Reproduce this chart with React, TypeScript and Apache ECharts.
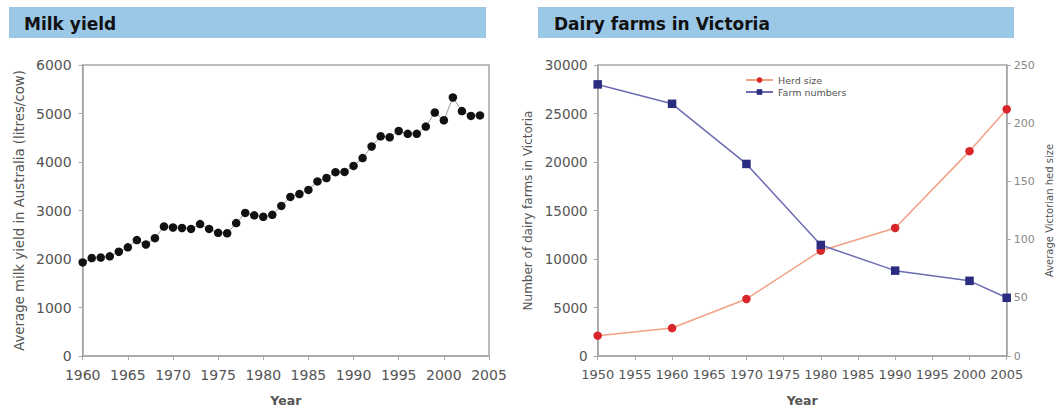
import React, { useEffect, useRef } from "react";
import * as echarts from "echarts";

const milkYears = [1960,1961,1962,1963,1964,1965,1966,1967,1968,1969,1970,1971,1972,1973,1974,1975,1976,1977,1978,1979,1980,1981,1982,1983,1984,1985,1986,1987,1988,1989,1990,1991,1992,1993,1994,1995,1996,1997,1998,1999,2000,2001,2002,2003,2004];
const milkYield = [1930,2020,2030,2055,2150,2240,2390,2300,2430,2670,2650,2640,2620,2720,2620,2540,2530,2740,2950,2900,2870,2910,3095,3280,3340,3425,3600,3670,3790,3795,3920,4080,4320,4530,4510,4640,4580,4580,4730,5020,4860,5330,5050,4950,4960];

const dairyYears = [1950,1960,1970,1980,1990,2000,2005];
const herdSize = [17.5,24,49,90.5,110,176,212];
const farmNumbers = [28000,26000,19800,11450,8800,7750,6000];

const leftTitle = "Milk yield";
const rightTitle = "Dairy farms in Victoria";

const FONT = "DejaVu Sans";
const AX = "#a6a6a6";
const TXT = "#555555";

export default function App() {
  const ref = useRef<HTMLDivElement>(null);
  useEffect(() => {
    if (!ref.current) return;
    const chart = echarts.init(ref.current, null, { renderer: "svg" });
    const axisLine = { show: true, lineStyle: { color: AX, width: 1.5 } };
    const axisTick = { show: true, length: 4, lineStyle: { color: AX, width: 1 } };
    const plain = (v: number) => String(v);
    chart.setOption({
      animation: false,
      textStyle: { fontFamily: FONT },
      graphic: [
        { type: "rect", shape: { x: 9, y: 7, width: 477, height: 31 }, style: { fill: "#9bc8e6" } },
        { type: "rect", shape: { x: 538, y: 7, width: 476, height: 31 }, style: { fill: "#9bc8e6" } },
        { type: "text", x: 24, y: 24, style: { text: leftTitle, font: `bold 17px '${FONT}'`, fill: "#111", textVerticalAlign: "middle" } },
        { type: "text", x: 554, y: 24, style: { text: rightTitle, font: `bold 17px '${FONT}'`, fill: "#111", textVerticalAlign: "middle" } },
      ],
      legend: {
        left: 740,
        top: 70,
        orient: "vertical",
        itemWidth: 27,
        itemHeight: 7,
        itemGap: 2,
        textStyle: { fontSize: 9.5, color: TXT, fontFamily: FONT },
        data: ["Herd size", "Farm numbers"],
      },
      grid: [
        { left: 82.7, top: 65, width: 406.3, height: 292.7, show: true, borderColor: AX, borderWidth: 1.5 },
        { left: 597.7, top: 65, width: 409, height: 292.7, show: true, borderColor: AX, borderWidth: 1.5 },
      ],
      xAxis: [
        {
          type: "value", gridIndex: 0, min: 1960, max: 2005, interval: 5,
          axisLine, axisTick, splitLine: { show: false },
          axisLabel: { color: TXT, fontSize: 14, margin: 12, formatter: plain },
          name: "Year", nameLocation: "middle", nameGap: 38,
          nameTextStyle: { color: TXT, fontSize: 12.5, fontWeight: "bold" },
        },
        {
          type: "value", gridIndex: 1, min: 1950, max: 2005, interval: 5,
          axisLine, axisTick, splitLine: { show: false },
          axisLabel: { color: TXT, fontSize: 13, margin: 12, formatter: plain },
          name: "Year", nameLocation: "middle", nameGap: 38,
          nameTextStyle: { color: TXT, fontSize: 12.5, fontWeight: "bold" },
        },
      ],
      yAxis: [
        {
          type: "value", gridIndex: 0, min: 0, max: 6000, interval: 1000,
          axisLine, axisTick, splitLine: { show: false },
          axisLabel: { color: TXT, fontSize: 14, margin: 11, formatter: plain },
          name: "Average milk yield in Australia (litres/cow)", nameLocation: "middle", nameGap: 57,
          nameTextStyle: { color: TXT, fontSize: 13.3 },
        },
        {
          type: "value", gridIndex: 1, min: 0, max: 30000, interval: 5000, position: "left",
          axisLine, axisTick, splitLine: { show: false },
          axisLabel: { color: TXT, fontSize: 13.5, margin: 10, formatter: plain },
          name: "Number of dairy farms in Victoria", nameLocation: "middle", nameGap: 64,
          nameTextStyle: { color: TXT, fontSize: 12 },
        },
        {
          type: "value", gridIndex: 1, min: 0, max: 250, interval: 50, position: "right",
          axisLine, axisTick, splitLine: { show: false },
          axisLabel: { color: "#888", fontSize: 11, margin: 7, formatter: plain },
          name: "Average Victorian hed size", nameLocation: "middle", nameGap: 38,
          nameRotate: 90,
          nameTextStyle: { color: TXT, fontSize: 10 },
        },
      ],
      series: [
        {
          name: "Milk yield", type: "line", xAxisIndex: 0, yAxisIndex: 0,
          data: milkYears.map((y, i) => [y, milkYield[i]]),
          symbol: "circle", symbolSize: 8.5,
          itemStyle: { color: "#111" },
          lineStyle: { color: "#999", width: 1 },
        },
        {
          name: "Herd size", type: "line", xAxisIndex: 1, yAxisIndex: 2,
          data: dairyYears.map((y, i) => [y, herdSize[i]]),
          symbol: "circle", symbolSize: 8.5,
          itemStyle: { color: "#d8262b" },
          lineStyle: { color: "#f2a184", width: 1.5 },
        },
        {
          name: "Farm numbers", type: "line", xAxisIndex: 1, yAxisIndex: 1,
          data: dairyYears.map((y, i) => [y, farmNumbers[i]]),
          symbol: "rect", symbolSize: 8.5,
          itemStyle: { color: "#2b2b80" },
          lineStyle: { color: "#6c6cb4", width: 1.5 },
        },
      ],
    });
    return () => chart.dispose();
  }, []);
  return (
    <div
      ref={ref}
      style={{ position: "absolute", left: 0, top: 0, width: 1061, height: 412, background: "#fff" }}
    />
  );
}
